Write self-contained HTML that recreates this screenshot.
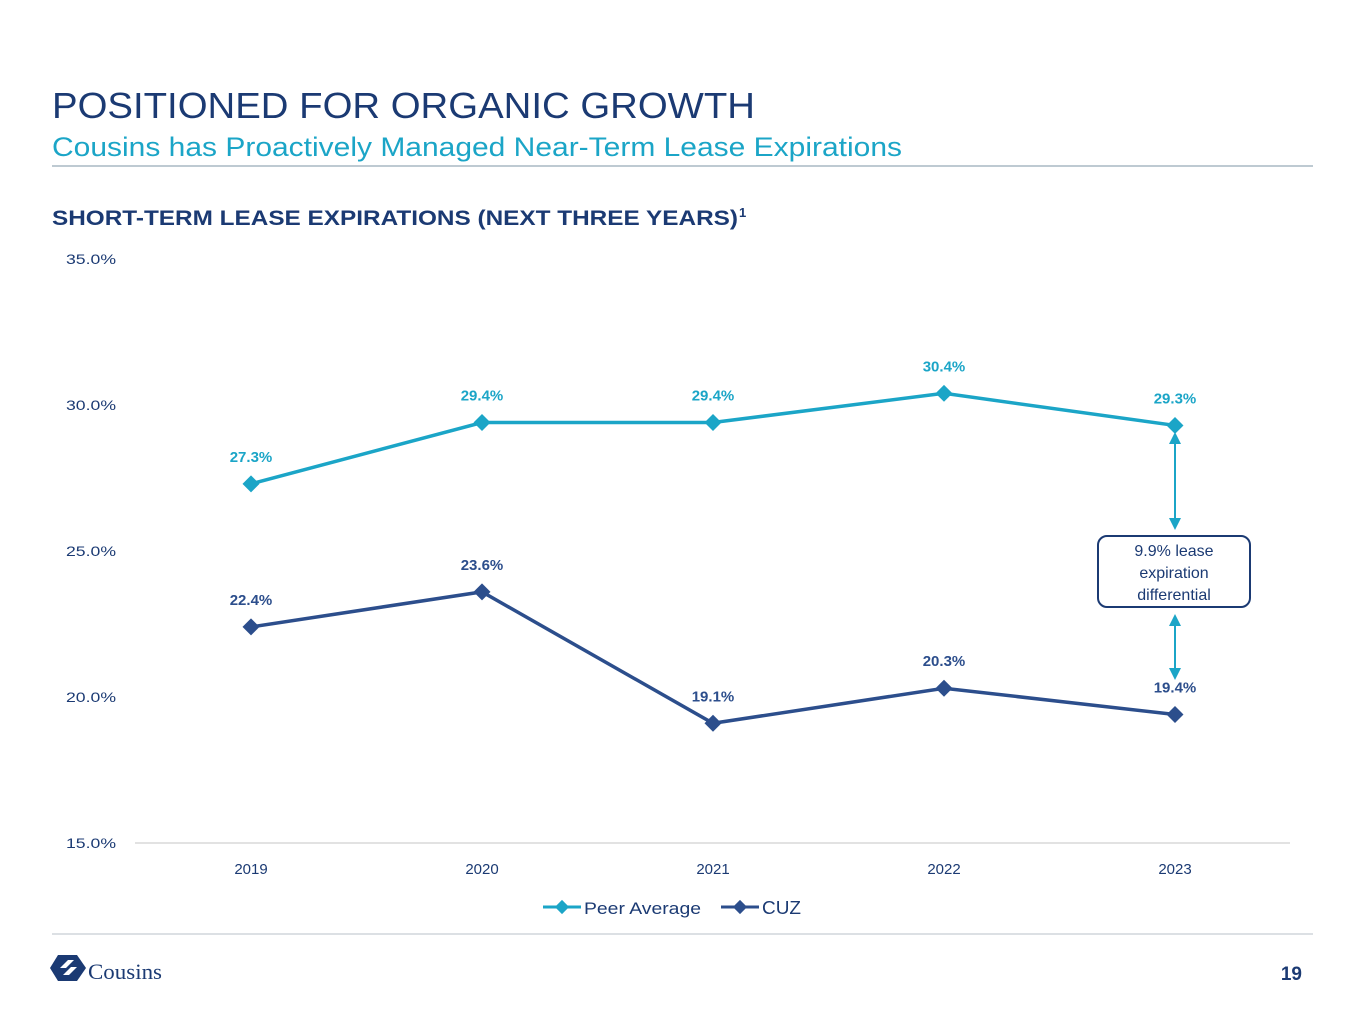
<!DOCTYPE html>
<html><head><meta charset="utf-8"><style>
html,body{margin:0;padding:0;background:#fff;}
svg{display:block;font-family:"Liberation Sans",sans-serif;}
</style></head><body>
<svg id="chart" width="1365" height="1032" viewBox="0 0 1365 1032">
<text x="52" y="118" font-size="36" fill="#1b3a73" textLength="703" lengthAdjust="spacingAndGlyphs">POSITIONED FOR ORGANIC GROWTH</text>
<text x="52" y="156" font-size="27" fill="#1ba5c7" textLength="850" lengthAdjust="spacingAndGlyphs">Cousins has Proactively Managed Near-Term Lease Expirations</text>
<line x1="52" y1="166" x2="1313" y2="166" stroke="#a9b8c3" stroke-width="1.5"/>
<text x="52" y="225" font-size="21" font-weight="bold" fill="#1b3a73" textLength="686" lengthAdjust="spacingAndGlyphs">SHORT-TERM LEASE EXPIRATIONS (NEXT THREE YEARS)</text>
<text x="739" y="217" font-size="13" font-weight="bold" fill="#1b3a73">1</text>
<g id="axes"></g>
<g id="series"></g>
<g>
<defs><marker id="ah" viewBox="0 0 10 10" refX="5" refY="5" markerWidth="6" markerHeight="6" orient="auto-start-reverse"><path d="M0,0L10,5L0,10z" fill="#1ba5c7"/></marker></defs>
<line x1="1175" y1="438" x2="1175" y2="524" stroke="#1ba5c7" stroke-width="2" marker-start="url(#ah)" marker-end="url(#ah)"/>
<line x1="1175" y1="620" x2="1175" y2="674" stroke="#1ba5c7" stroke-width="2" marker-start="url(#ah)" marker-end="url(#ah)"/>
<rect x="1098" y="536" width="152" height="71" rx="9" fill="#fff" stroke="#1b3a73" stroke-width="2"/>
<text x="1174" y="556" font-size="16" fill="#1b3a73" text-anchor="middle"><tspan x="1174">9.9% lease</tspan><tspan x="1174" dy="22">expiration</tspan><tspan x="1174" dy="22">differential</tspan></text>
</g>
<g>
<line x1="543" y1="907" x2="581" y2="907" stroke="#1ba5c7" stroke-width="3"/>
<rect x="557" y="902" width="10" height="10" fill="#1ba5c7" transform="rotate(45 562 907)"/>
<text x="584" y="914" font-size="17" fill="#1b3a73" textLength="117" lengthAdjust="spacingAndGlyphs">Peer Average</text>
<line x1="721" y1="907" x2="759" y2="907" stroke="#2c4e8c" stroke-width="3"/>
<rect x="735" y="902" width="10" height="10" fill="#2c4e8c" transform="rotate(45 740 907)"/>
<text x="762" y="914" font-size="18" fill="#1b3a73" textLength="39" lengthAdjust="spacingAndGlyphs">CUZ</text>
</g>
<line x1="52" y1="934" x2="1313" y2="934" stroke="#d0d6dc" stroke-width="1.5"/>
<g>
<polygon points="58,955 77,955 86,968 77,981 58,981 50,968" fill="#1b3a73"/>
<path d="M60,968 l8,-8 l6,0 l-8,8z M63,975 l8,-8 l6,0 l-8,8z" fill="#fff"/>
<text x="88" y="979" font-family="Liberation Serif,serif" font-size="22" fill="#1b3a73" textLength="74" lengthAdjust="spacingAndGlyphs">Cousins</text>
</g>
<text x="1302" y="980" font-size="19" font-weight="bold" fill="#1b3a73" text-anchor="end">19</text>
</svg>
<script>
const categories = ["2019","2020","2021","2022","2023"];
const peerValues = [27.3, 29.4, 29.4, 30.4, 29.3];
const cuzValues = [22.4, 23.6, 19.1, 20.3, 19.4];
const yTicks = [15, 20, 25, 30, 35];
const yTickLabels = ["15.0%","20.0%","25.0%","30.0%","35.0%"];

const NS = "http://www.w3.org/2000/svg";
function yScale(v){ return 843 - (v - 15) * 29.2; }
function xScale(i){ return 251 + i * 231; }
function mk(tag, attrs, parent){ const e = document.createElementNS(NS, tag); for (const k in attrs) e.setAttribute(k, attrs[k]); parent.appendChild(e); return e; }

const axes = document.getElementById('axes');
const base = mk('line', {x1:135, y1:yScale(15), x2:1290, y2:yScale(15), stroke:'#d9d9d9', 'stroke-width':1.5}, axes);


yTicks.forEach((t, i) => {
  const tx = mk('text', {x:66, y:yScale(t)+5, 'font-size':14, fill:'#1b3a73', textLength:50, lengthAdjust:'spacingAndGlyphs'}, axes);
  tx.textContent = yTickLabels[i];
  
  
});
categories.forEach((c, i) => {
  const tx = mk('text', {x:xScale(i), y:874, 'font-size':15, fill:'#1b3a73', 'text-anchor':'middle'}, axes);
  tx.textContent = c;
  
  
});

const series = document.getElementById('series');
function drawSeries(vals, color, name){
  const pts = vals.map((v, i) => xScale(i) + ',' + yScale(v)).join(' ');
  const pl = mk('polyline', {points:pts, fill:'none', stroke:color, 'stroke-width':3.5}, series);
  
  
  vals.forEach((v, i) => {
    const x = xScale(i), y = yScale(v);
    const m = mk('rect', {x:x-6, y:y-6, width:12, height:12, fill:color, transform:'rotate(45 ' + x + ' ' + y + ')'}, series);
    
    
    const lb = mk('text', {x:x, y:y - 22, 'font-size':15, 'font-weight':'bold', fill:color, 'text-anchor':'middle'}, series);
    lb.textContent = v.toFixed(1) + '%';
    
    
  });
}
drawSeries(peerValues, '#1ba5c7', 'peer-average');
drawSeries(cuzValues, '#2c4e8c', 'cuz');
</script>
</body></html>
